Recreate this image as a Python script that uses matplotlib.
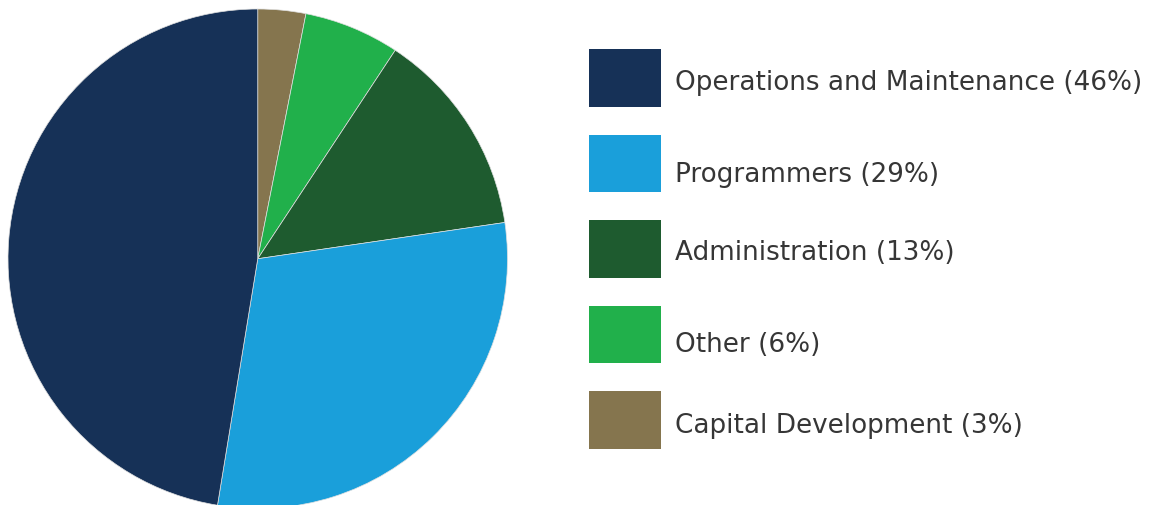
import matplotlib
matplotlib.use("Agg")
import matplotlib.pyplot as plt
from matplotlib.patches import Rectangle

# Budget shares (percent), listed in legend order
categories = ["Operations and Maintenance", "Programmers", "Administration",
              "Other", "Capital Development"]
shares = [46, 29, 13, 6, 3]
colors = ["#163157", "#1a9fda", "#1e5b2f", "#21b04b", "#85754e"]

W, H = 1153, 506
fig = plt.figure(figsize=(W / 100, H / 100), dpi=100)

# Pie: wedges run clockwise from 12 o'clock, smallest share first
pie_ax = fig.add_axes([8 / W, 1 - 509.5 / H, 499.5 / W, 499.5 / H])
pie_ax.pie(shares[::-1], colors=colors[::-1], startangle=90, counterclock=False,
           wedgeprops=dict(linewidth=0.5, edgecolor="#e0e0e0"))
pie_ax.set_xlim(-1, 1)
pie_ax.set_ylim(-1, 1)
pie_ax.set_aspect("equal")

# Legend drawn on a pixel-space overlay
leg = fig.add_axes([0, 0, 1, 1])
leg.set_xlim(0, W)
leg.set_ylim(H, 0)
leg.axis("off")
row_top, row_step, box_w, box_h = 50, 85.5, 72, 57.5
baseline_shift = [40, 46.5, 39, 45.5, 41]   # label baseline below each swatch top
for i, (name, val, col) in enumerate(zip(categories, shares, colors)):
    y = row_top + i * row_step
    leg.add_patch(Rectangle((589, y), box_w, box_h, facecolor=col, edgecolor="none"))
    leg.text(675, y + baseline_shift[i], f"{name} ({val}%)", va="baseline", ha="left",
             fontsize=18.9, color="#363636", family="DejaVu Sans")

fig.savefig("out.png", dpi=100, facecolor="white")
